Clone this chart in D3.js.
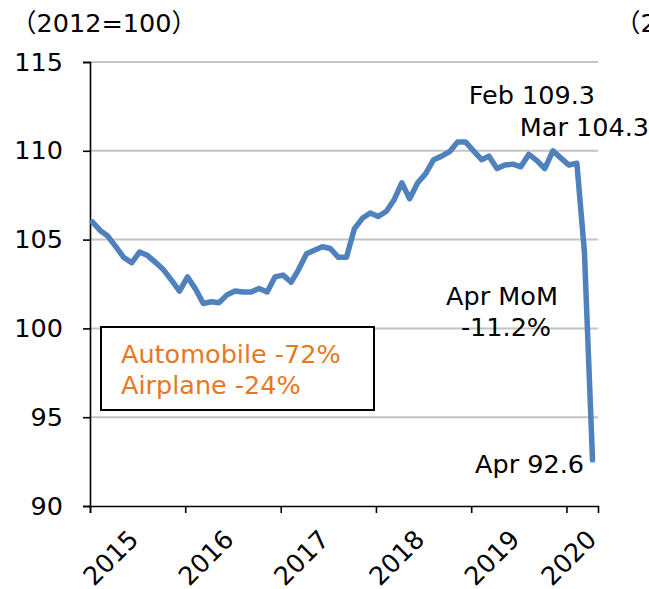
<!DOCTYPE html>
<html>
<head>
<meta charset="utf-8">
<script src="https://cdn.jsdelivr.net/npm/d3@7"></script>
<style>
  body { margin: 0; background: #fff; }
  svg { display: block; font-family: "DejaVu Sans", "Noto Sans CJK JP", sans-serif; }
</style>
</head>
<body>
<div id="chart"></div>
<script>
// monthly index, 2012=100, Jan 2015 - Apr 2020
let start_year = 2015;
let vals2015 = [106.0, 105.5, 105.2, 104.6, 104.0, 103.7, 104.3, 104.1, 103.7, 103.3, 102.7, 102.1];
let vals2016 = [102.9, 102.2, 101.4, 101.5, 101.45, 101.9, 102.1, 102.05, 102.05, 102.25, 102.05, 102.9];
let vals2017 = [103.0, 102.6, 103.3, 104.2, 104.4, 104.6, 104.5, 104.0, 104.0, 105.6, 106.2, 106.5];
let vals2018 = [106.3, 106.6, 107.2, 108.2, 107.3, 108.2, 108.7, 109.5, 109.7, 109.95, 110.5, 110.5];
let vals2019 = [110.0, 109.5, 109.7, 109.0, 109.2, 109.25, 109.1, 109.8, 109.45, 109.0, 110.0, 109.6];
let vals2020 = [109.2, 109.3, 104.3, 92.6];

let yearTicks = [2015, 2016, 2017, 2018, 2019, 2020];
let yTicks = [90, 95, 100, 105, 110, 115];

let series = [].concat(vals2015, vals2016, vals2017, vals2018, vals2019, vals2020)
  .map((v, i) => ({ date: new Date(start_year, i, 10), value: v }));

let width = 649, height = 589;
let plotLeft = 90, plotRight = 598, plotTop = 62, plotBottom = 506;
let fontSize = 25.5;

let svg = d3.select("#chart").append("svg")
  .attr("width", width)
  .attr("height", height);

let x = d3.scaleTime()
  .domain([new Date(2015, 0, 1), new Date(2020, 4, 1)])
  .range([plotLeft, plotRight]);
let y = d3.scaleLinear()
  .domain([90, 115])
  .range([plotBottom, plotTop]);

// gridlines
svg.append("g")
  .selectAll("line")
  .data(yTicks.filter(d => d > 90))
  .enter().append("line")
  .attr("x1", plotLeft).attr("x2", plotRight)
  .attr("y1", d => y(d)).attr("y2", d => y(d))
  .attr("stroke", "#c4c4c4")
  .attr("stroke-width", 2);

// y axis
let yAxis = svg.append("g")
  .attr("transform", "translate(" + plotLeft + ",0)")
  .call(d3.axisLeft(y).tickValues(yTicks).tickSize(7).tickPadding(20));
yAxis.select(".domain").attr("stroke", "#000").attr("stroke-width", 1.6);
yAxis.selectAll(".tick line").attr("stroke", "#000").attr("stroke-width", 1.6);
yAxis.selectAll("text")
  .attr("font-size", fontSize)
  .attr("font-family", "DejaVu Sans")
  .attr("fill", "#000");

// x axis
let xAxis = svg.append("g")
  .attr("transform", "translate(0," + plotBottom + ")")
  .call(d3.axisBottom(x).tickValues(yearTicks.map(t => new Date(t, 0, 1))).tickSize(7).tickFormat(""));
xAxis.select(".domain").attr("stroke", "#000").attr("stroke-width", 1.6);
xAxis.selectAll(".tick line").attr("stroke", "#000").attr("stroke-width", 1.6);

// rotated year labels, last one kept inside the plot width
svg.append("g")
  .selectAll("text")
  .data(yearTicks)
  .enter().append("text")
  .attr("transform", d => {
    let ex = Math.min(x(new Date(d, 0, 1)) + 50, plotRight);
    return "translate(" + ex + ",541) rotate(-45)";
  })
  .attr("text-anchor", "end")
  .attr("font-size", fontSize)
  .attr("fill", "#000")
  .text(d => d);

// line
let line = d3.line()
  .x(d => x(d.date))
  .y(d => y(d.value));

svg.append("path")
  .datum(series)
  .attr("fill", "none")
  .attr("stroke", "#4f81bd")
  .attr("stroke-width", 5.5)
  .attr("stroke-linejoin", "round")
  .attr("stroke-linecap", "round")
  .attr("d", line);

// unit labels (second one belongs to the neighbouring chart, clipped)
svg.append("text").attr("x", 11).attr("y", 32).attr("font-size", fontSize).text("（2012=100）");
svg.append("text").attr("x", 615).attr("y", 32).attr("font-size", fontSize).text("（2012=100）");

// annotations
let notes = [
  { t: "Feb 109.3", x: 595, y: 104, anchor: "end" },
  { t: "Mar 104.3", x: 649, y: 136, anchor: "end" },
  { t: "Apr MoM", x: 502, y: 305, anchor: "middle" },
  { t: "-11.2%", x: 506, y: 336, anchor: "middle" },
  { t: "Apr 92.6", x: 584, y: 473, anchor: "end" }
];
svg.append("g")
  .selectAll("text")
  .data(notes)
  .enter().append("text")
  .attr("x", d => d.x)
  .attr("y", d => d.y)
  .attr("text-anchor", d => d.anchor)
  .attr("font-size", fontSize)
  .attr("fill", "#000")
  .text(d => d.t);

// box with breakdown
svg.append("rect")
  .attr("x", 101).attr("y", 327)
  .attr("width", 273).attr("height", 83)
  .attr("fill", "#fff")
  .attr("stroke", "#000")
  .attr("stroke-width", 2);

let boxLines = ["Automobile -72%", "Airplane -24%"];
svg.append("g")
  .selectAll("text")
  .data(boxLines)
  .enter().append("text")
  .attr("x", 121)
  .attr("y", (d, i) => 363 + i * 31)
  .attr("font-size", fontSize)
  .attr("fill", "#e8781e")
  .text(d => d);
</script>
</body>
</html>
